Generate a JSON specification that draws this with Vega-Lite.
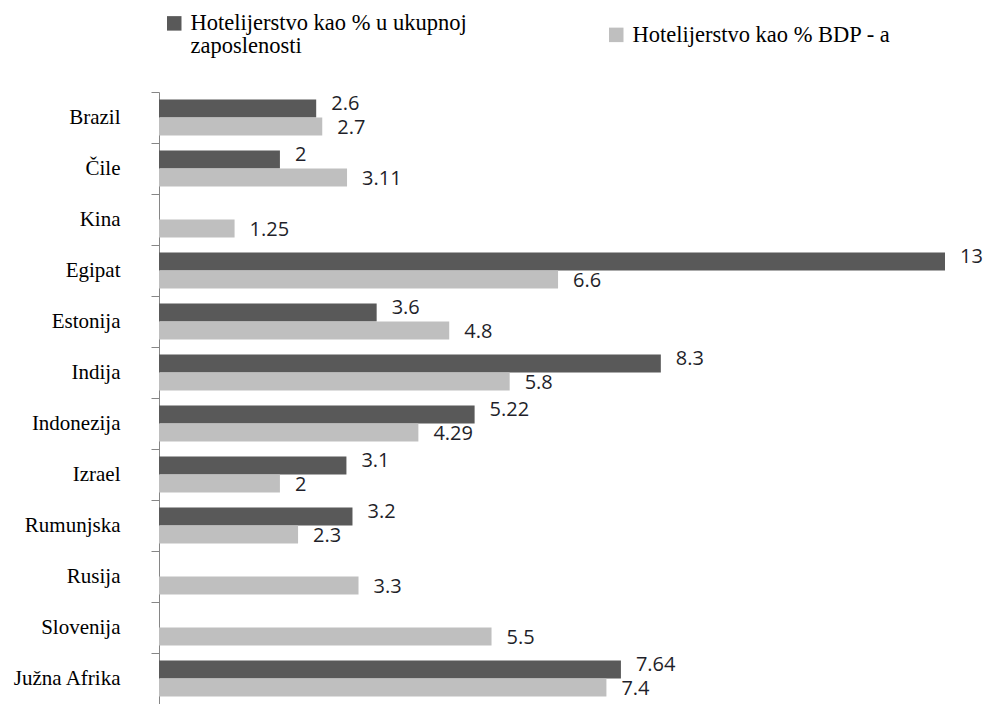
{
  "$schema": "https://vega.github.io/schema/vega-lite/v6.json",
  "width": 786,
  "height": 612,
  "autosize": "none",
  "padding": {"left": 159, "top": 92, "right": 46, "bottom": 0},
  "background": "white",
  "config": {
    "view": {"stroke": null},
    "style": {"guide-label": {"lineHeight": 23}}
  },
  "data": {
    "values": [
      {"zemlja": "Brazil", "serija": "Hotelijerstvo kao % u ukupnoj zaposlenosti", "vrijednost": 2.6},
      {"zemlja": "Brazil", "serija": "Hotelijerstvo kao % BDP - a", "vrijednost": 2.7},
      {"zemlja": "Čile", "serija": "Hotelijerstvo kao % u ukupnoj zaposlenosti", "vrijednost": 2},
      {"zemlja": "Čile", "serija": "Hotelijerstvo kao % BDP - a", "vrijednost": 3.11},
      {"zemlja": "Kina", "serija": "Hotelijerstvo kao % BDP - a", "vrijednost": 1.25},
      {"zemlja": "Egipat", "serija": "Hotelijerstvo kao % u ukupnoj zaposlenosti", "vrijednost": 13},
      {"zemlja": "Egipat", "serija": "Hotelijerstvo kao % BDP - a", "vrijednost": 6.6},
      {"zemlja": "Estonija", "serija": "Hotelijerstvo kao % u ukupnoj zaposlenosti", "vrijednost": 3.6},
      {"zemlja": "Estonija", "serija": "Hotelijerstvo kao % BDP - a", "vrijednost": 4.8},
      {"zemlja": "Indija", "serija": "Hotelijerstvo kao % u ukupnoj zaposlenosti", "vrijednost": 8.3},
      {"zemlja": "Indija", "serija": "Hotelijerstvo kao % BDP - a", "vrijednost": 5.8},
      {"zemlja": "Indonezija", "serija": "Hotelijerstvo kao % u ukupnoj zaposlenosti", "vrijednost": 5.22},
      {"zemlja": "Indonezija", "serija": "Hotelijerstvo kao % BDP - a", "vrijednost": 4.29},
      {"zemlja": "Izrael", "serija": "Hotelijerstvo kao % u ukupnoj zaposlenosti", "vrijednost": 3.1},
      {"zemlja": "Izrael", "serija": "Hotelijerstvo kao % BDP - a", "vrijednost": 2},
      {"zemlja": "Rumunjska", "serija": "Hotelijerstvo kao % u ukupnoj zaposlenosti", "vrijednost": 3.2},
      {"zemlja": "Rumunjska", "serija": "Hotelijerstvo kao % BDP - a", "vrijednost": 2.3},
      {"zemlja": "Rusija", "serija": "Hotelijerstvo kao % BDP - a", "vrijednost": 3.3},
      {"zemlja": "Slovenija", "serija": "Hotelijerstvo kao % BDP - a", "vrijednost": 5.5},
      {"zemlja": "Južna Afrika", "serija": "Hotelijerstvo kao % u ukupnoj zaposlenosti", "vrijednost": 7.64},
      {"zemlja": "Južna Afrika", "serija": "Hotelijerstvo kao % BDP - a", "vrijednost": 7.4}
    ]
  },
  "encoding": {
    "y": {
      "field": "zemlja",
      "type": "nominal",
      "sort": ["Brazil", "Čile", "Kina", "Egipat", "Estonija", "Indija", "Indonezija", "Izrael", "Rumunjska", "Rusija", "Slovenija", "Južna Afrika"],
      "scale": {"paddingInner": 0, "paddingOuter": 0},
      "axis": {
        "title": null,
        "domain": true,
        "domainColor": "#868686",
        "ticks": true,
        "tickColor": "#868686",
        "tickSize": 8,
        "tickBand": "extent",
        "labelAlign": "right",
        "labelPadding": 31,
        "labelFont": "Liberation Serif",
        "labelFontSize": 21,
        "labelColor": "#000000",
        "grid": false
      }
    },
    "yOffset": {
      "field": "serija",
      "type": "nominal",
      "scale": {
        "domain": ["Hotelijerstvo kao % u ukupnoj zaposlenosti", "Hotelijerstvo kao % BDP - a"],
        "paddingInner": 0,
        "paddingOuter": 0.417
      }
    },
    "x": {
      "field": "vrijednost",
      "type": "quantitative",
      "scale": {"domain": [0, 13], "nice": false, "zero": true},
      "axis": null
    }
  },
  "layer": [
    {
      "mark": {"type": "bar"},
      "encoding": {
        "color": {
          "field": "serija",
          "type": "nominal",
          "scale": {
            "domain": ["Hotelijerstvo kao % u ukupnoj zaposlenosti", "Hotelijerstvo kao % BDP - a"],
            "range": ["#595959", "#bfbfbf"]
          },
          "legend": {
            "title": null,
            "orient": "none",
            "legendX": 4,
            "legendY": -80,
            "direction": "horizontal",
            "padding": 0,
            "symbolType": "square",
            "symbolSize": 210,
            "symbolStrokeWidth": 0,
            "labelFont": "Liberation Serif",
            "labelFontSize": 22.5,
            "labelColor": "#000000",
            "labelLimit": 500,
            "labelOffset": 5,
            "columnPadding": 138,
            "labelExpr": "datum.label == 'Hotelijerstvo kao % u ukupnoj zaposlenosti' ? ['Hotelijerstvo kao % u ukupnoj', 'zaposlenosti'] : datum.label"
          }
        }
      }
    },
    {
      "transform": [{"filter": "datum.serija == 'Hotelijerstvo kao % u ukupnoj zaposlenosti'"}],
      "mark": {"type": "text", "align": "left", "baseline": "alphabetic", "dx": 15, "dy": 1, "font": "Open Sans", "fontSize": 20, "color": "#1f1f2a"},
      "encoding": {
        "text": {"field": "vrijednost", "type": "quantitative", "format": ".2~f"}
      }
    },
    {
      "transform": [{"filter": "datum.serija == 'Hotelijerstvo kao % BDP - a'"}],
      "mark": {"type": "text", "align": "left", "baseline": "alphabetic", "dx": 15, "dy": 8, "font": "Open Sans", "fontSize": 20, "color": "#1f1f2a"},
      "encoding": {
        "text": {"field": "vrijednost", "type": "quantitative", "format": ".2~f"}
      }
    }
  ]
}
